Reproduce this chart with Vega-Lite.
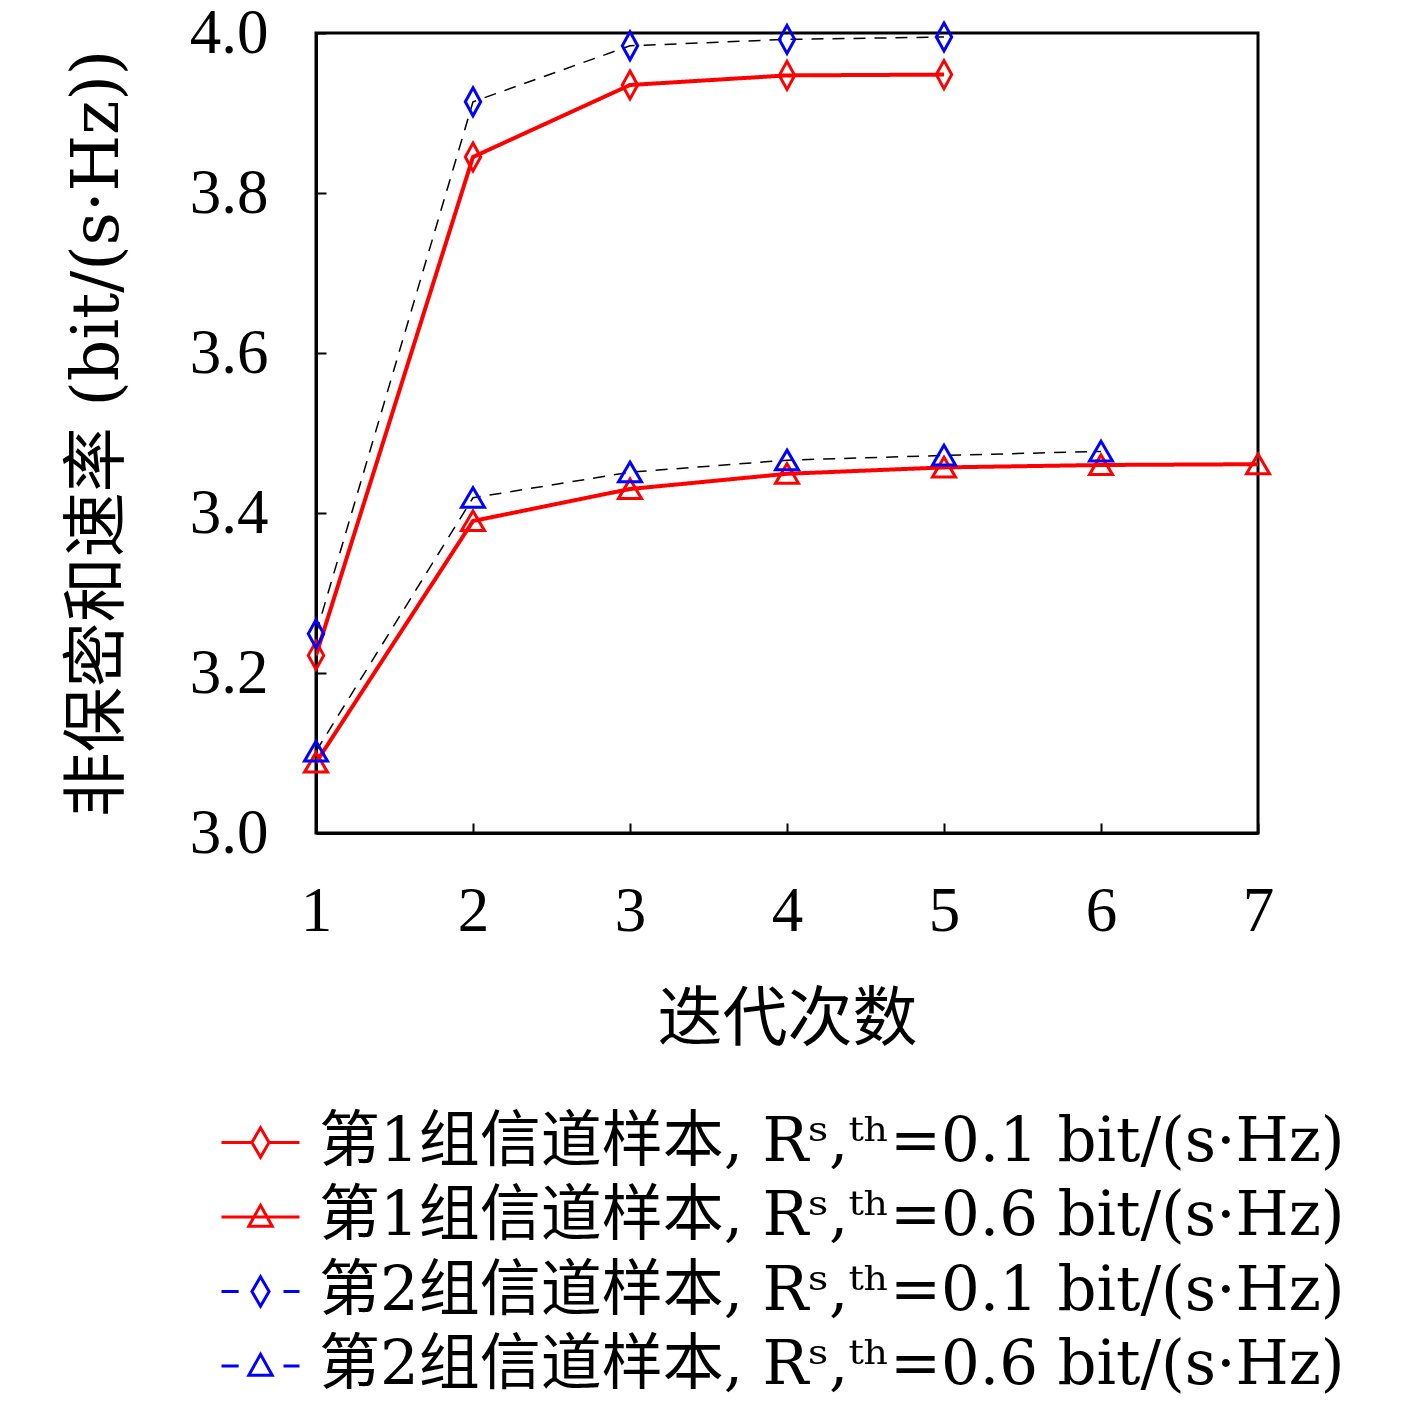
{
  "$schema": "https://vega.github.io/schema/vega-lite/v6.json",
  "width": 942,
  "height": 800,
  "autosize": {"type": "none"},
  "padding": {"left": 316, "top": 33, "right": 159, "bottom": 575},
  "background": "white",
  "config": {
    "view": {"stroke": "black", "strokeWidth": 3},
    "font": "Liberation Serif, Noto Sans CJK SC",
    "axis": {
      "grid": false,
      "domainColor": "black",
      "domainWidth": 3,
      "tickColor": "black",
      "tickWidth": 2,
      "tickSize": -10,
      "labelColor": "black",
      "titleColor": "black",
      "labelFont": "Liberation Serif, Noto Sans CJK SC",
      "titleFont": "DejaVu Serif, Noto Sans CJK SC",
      "labelFontSize": 63,
      "titleFontSize": 65,
      "titleFontWeight": "normal",
      "labelFlush": false
    }
  },
  "data": {
    "values": [
      {"series": "第1组信道样本, Rˢ,ᵗʰ=0.1 bit/(s·Hz)", "group": 1, "iter": 1, "rate": 3.222},
      {"series": "第1组信道样本, Rˢ,ᵗʰ=0.1 bit/(s·Hz)", "group": 1, "iter": 2, "rate": 3.845},
      {"series": "第1组信道样本, Rˢ,ᵗʰ=0.1 bit/(s·Hz)", "group": 1, "iter": 3, "rate": 3.935},
      {"series": "第1组信道样本, Rˢ,ᵗʰ=0.1 bit/(s·Hz)", "group": 1, "iter": 4, "rate": 3.947},
      {"series": "第1组信道样本, Rˢ,ᵗʰ=0.1 bit/(s·Hz)", "group": 1, "iter": 5, "rate": 3.948},
      {"series": "第1组信道样本, Rˢ,ᵗʰ=0.6 bit/(s·Hz)", "group": 1, "iter": 1, "rate": 3.088},
      {"series": "第1组信道样本, Rˢ,ᵗʰ=0.6 bit/(s·Hz)", "group": 1, "iter": 2, "rate": 3.39},
      {"series": "第1组信道样本, Rˢ,ᵗʰ=0.6 bit/(s·Hz)", "group": 1, "iter": 3, "rate": 3.43},
      {"series": "第1组信道样本, Rˢ,ᵗʰ=0.6 bit/(s·Hz)", "group": 1, "iter": 4, "rate": 3.449},
      {"series": "第1组信道样本, Rˢ,ᵗʰ=0.6 bit/(s·Hz)", "group": 1, "iter": 5, "rate": 3.457},
      {"series": "第1组信道样本, Rˢ,ᵗʰ=0.6 bit/(s·Hz)", "group": 1, "iter": 6, "rate": 3.46},
      {"series": "第1组信道样本, Rˢ,ᵗʰ=0.6 bit/(s·Hz)", "group": 1, "iter": 7, "rate": 3.461},
      {"series": "第2组信道样本, Rˢ,ᵗʰ=0.1 bit/(s·Hz)", "group": 2, "iter": 1, "rate": 3.249},
      {"series": "第2组信道样本, Rˢ,ᵗʰ=0.1 bit/(s·Hz)", "group": 2, "iter": 2, "rate": 3.914},
      {"series": "第2组信道样本, Rˢ,ᵗʰ=0.1 bit/(s·Hz)", "group": 2, "iter": 3, "rate": 3.984},
      {"series": "第2组信道样本, Rˢ,ᵗʰ=0.1 bit/(s·Hz)", "group": 2, "iter": 4, "rate": 3.992},
      {"series": "第2组信道样本, Rˢ,ᵗʰ=0.1 bit/(s·Hz)", "group": 2, "iter": 5, "rate": 3.995},
      {"series": "第2组信道样本, Rˢ,ᵗʰ=0.6 bit/(s·Hz)", "group": 2, "iter": 1, "rate": 3.102},
      {"series": "第2组信道样本, Rˢ,ᵗʰ=0.6 bit/(s·Hz)", "group": 2, "iter": 2, "rate": 3.419},
      {"series": "第2组信道样本, Rˢ,ᵗʰ=0.6 bit/(s·Hz)", "group": 2, "iter": 3, "rate": 3.451},
      {"series": "第2组信道样本, Rˢ,ᵗʰ=0.6 bit/(s·Hz)", "group": 2, "iter": 4, "rate": 3.466},
      {"series": "第2组信道样本, Rˢ,ᵗʰ=0.6 bit/(s·Hz)", "group": 2, "iter": 5, "rate": 3.472},
      {"series": "第2组信道样本, Rˢ,ᵗʰ=0.6 bit/(s·Hz)", "group": 2, "iter": 6, "rate": 3.477}
    ]
  },
  "encoding": {
    "x": {
      "field": "iter",
      "type": "quantitative",
      "scale": {"domain": [1, 7], "nice": false, "zero": false},
      "axis": {"values": [1, 2, 3, 4, 5, 6, 7], "format": "d", "title": "迭代次数", "labelPadding": 57, "titlePadding": 45}
    },
    "y": {
      "field": "rate",
      "type": "quantitative",
      "scale": {"domain": [3.0, 4.0], "nice": false, "zero": false},
      "axis": {"values": [3.0, 3.2, 3.4, 3.6, 3.8, 4.0], "format": ".1f", "title": "非保密和速率 (bit/(s·Hz))", "labelPadding": 58, "titlePadding": 58}
    }
  },
  "layer": [
    {
      "mark": {"type": "line", "clip": true},
      "encoding": {
        "detail": {"field": "series"},
        "color": {"condition": {"test": "datum.group === 2", "value": "black"}, "value": "#ff0000"},
        "strokeDash": {"condition": {"test": "datum.group === 2", "value": [12, 9]}, "value": [1, 0]},
        "strokeWidth": {"condition": {"test": "datum.group === 2", "value": 1.5}, "value": 4}
      }
    },
    {
      "mark": {"type": "point", "filled": false, "strokeWidth": 3, "size": 784, "opacity": 1},
      "encoding": {
        "color": {"condition": {"test": "datum.group === 2", "value": "#0000ff"}, "value": "#ff0000"},
        "shape": {"condition": {"test": "indexof(datum.series, '0.1 bit') > 0", "value": "M0,-1L0.55,0L0,1L-0.55,0Z"}, "value": "M0,-0.72L0.82,0.68L-0.82,0.68Z"}
      }
    },
    {
      "transform": [{"filter": "datum.iter < 0"}],
      "mark": {"type": "point", "filled": false, "strokeWidth": 3, "opacity": 1},
      "encoding": {
        "color": {
          "field": "series",
          "type": "nominal",
          "scale": {
            "domain": [
              "第1组信道样本, Rˢ,ᵗʰ=0.1 bit/(s·Hz)",
              "第1组信道样本, Rˢ,ᵗʰ=0.6 bit/(s·Hz)",
              "第2组信道样本, Rˢ,ᵗʰ=0.1 bit/(s·Hz)",
              "第2组信道样本, Rˢ,ᵗʰ=0.6 bit/(s·Hz)"
            ],
            "range": ["#ff0000", "#ff0000", "#0000ff", "#0000ff"]
          },
          "legend": {
            "title": null,
            "orient": "none",
            "legendX": -96,
            "legendY": 1069,
            "padding": 0,
            "symbolSize": 6084,
            "symbolStrokeWidth": 3,
            "symbolOpacity": 1,
            "labelFontSize": 61,
            "labelFont": "DejaVu Serif, Noto Sans CJK SC",
            "labelColor": "black",
            "labelLimit": 3000,
            "labelOffset": 18,
            "rowPadding": 3.5
          }
        },
        "shape": {
          "field": "series",
          "type": "nominal",
          "scale": {
            "domain": [
              "第1组信道样本, Rˢ,ᵗʰ=0.1 bit/(s·Hz)",
              "第1组信道样本, Rˢ,ᵗʰ=0.6 bit/(s·Hz)",
              "第2组信道样本, Rˢ,ᵗʰ=0.1 bit/(s·Hz)",
              "第2组信道样本, Rˢ,ᵗʰ=0.6 bit/(s·Hz)"
            ],
            "range": [
              "M-1,0H-0.22M0.22,0H1M0,-0.38L0.22,0L0,0.38L-0.22,0Z",
              "M-1,0H1M0,-0.3L0.3,0.24L-0.3,0.24Z",
              "M-1,0H-0.56M0.59,0H1M0,-0.38L0.22,0L0,0.38L-0.22,0Z",
              "M-1,0H-0.56M0.59,0H1M0,-0.3L0.3,0.24L-0.3,0.24Z"
            ]
          }
        }
      }
    }
  ]
}
